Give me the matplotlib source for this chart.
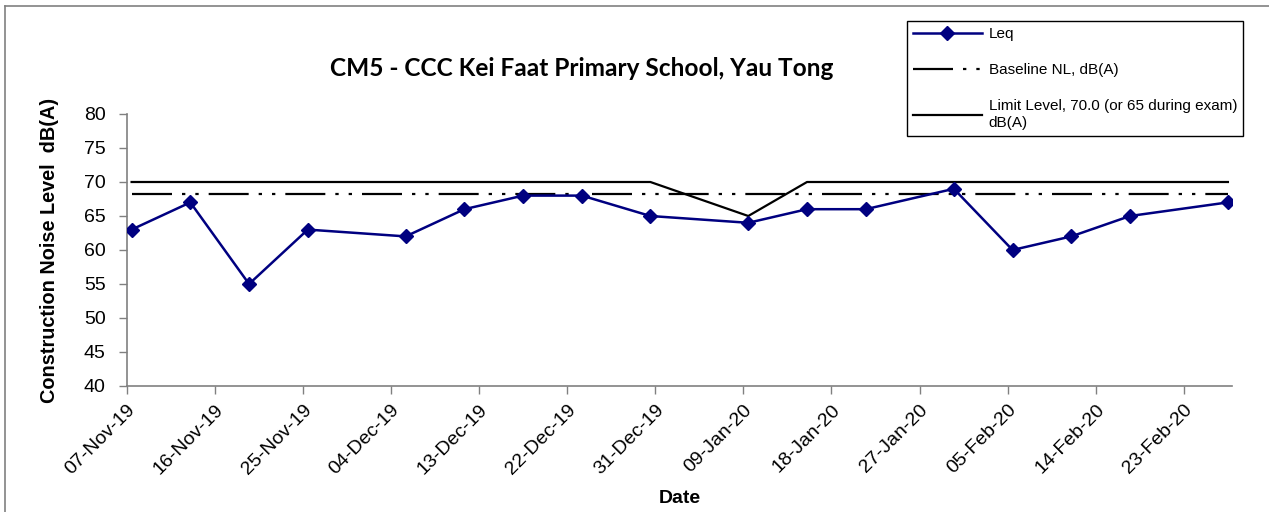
import numpy as np
import pandas as pd
import matplotlib
matplotlib.use("Agg")
import matplotlib.pyplot as plt
import matplotlib.dates as mdates
from matplotlib.lines import Line2D

# measurement dates and readings
dates = ["2019-11-07", "2019-11-13", "2019-11-19", "2019-11-25", "2019-12-05",
         "2019-12-11", "2019-12-17", "2019-12-23", "2019-12-30", "2020-01-09",
         "2020-01-15", "2020-01-21", "2020-01-30", "2020-02-05", "2020-02-11",
         "2020-02-17", "2020-02-27"]
leq = [63, 67, 55, 63, 62, 66, 68, 68, 65, 64, 66, 66, 69, 60, 62, 65, 67]
baseline = [68.2] * len(dates)
limit = [70, 70, 70, 70, 70, 70, 70, 70, 70, 65, 70, 70, 70, 70, 70, 70, 70]

x_start = "2019-11-07"
x_end = "2020-02-28"
tick_step_days = 9

title = "CM5 - CCC Kei Faat Primary School, Yau Tong"
labels = ["Leq", "Baseline NL, dB(A)", "Limit Level, 70.0 (or 65 during exam)\ndB(A)"]

plt.rcParams['font.family'] = ['Liberation Sans', 'DejaVu Sans']

# points sit in the middle of each day
t = pd.to_datetime(dates) + pd.Timedelta(hours=12)

fig = plt.figure(figsize=(12.69, 5.12), dpi=100)
ax = fig.add_axes([126.7/1269, 1-386/512, (1232-126.7)/1269, (386-114)/512])

l1, = ax.plot(t, leq, color='#000080', lw=1.8, marker='D', ms=7, zorder=4)
l2, = ax.plot(t, baseline, color='black', lw=1.6, zorder=3)
l2.set_dashes([18, 4.5, 1.5, 4.5, 1.5, 4.5])
l3, = ax.plot(t, limit, color='black', lw=1.6, zorder=3)

ax.set_ylim(40, 80)
ax.set_yticks(np.arange(40, 81, 5))
ax.set_xlim(pd.Timestamp(x_start), pd.Timestamp(x_end) - pd.Timedelta(hours=2))
ticks = pd.date_range(x_start, periods=13, freq=f"{tick_step_days}D")
ax.set_xticks(ticks)
ax.xaxis.set_major_formatter(mdates.DateFormatter('%d-%b-%y'))
plt.setp(ax.get_xticklabels(), rotation=45, ha='right', rotation_mode='anchor')

for s in ['top', 'right']:
    ax.spines[s].set_visible(False)
for s in ['left', 'bottom']:
    ax.spines[s].set_color('#808080')
    ax.spines[s].set_linewidth(1.2)
ax.tick_params(direction='out', length=6, width=1, color='#808080', labelsize=14)
ax.tick_params(axis='y', pad=9)
ax.tick_params(axis='x', pad=5)

ax.set_xlabel("Date", fontsize=14, fontweight='bold', labelpad=9)
ax.set_ylabel("Construction Noise Level  dB(A)", fontsize=14.3, fontweight='bold', labelpad=18)

fig.text(582/1269, 1-68/512, title, fontsize=17.6, fontweight='bold', family='Lato',
         ha='center', va='center')

leg = fig.legend([l1, l2, l3], labels, loc='upper left',
                 bbox_to_anchor=(907/1269, 1-21/512), fontsize=11,
                 frameon=True, fancybox=False, edgecolor='black', framealpha=1,
                 handlelength=4.5, labelspacing=1.45, borderpad=0.4, handletextpad=0.45,
                 borderaxespad=0)
leg.get_frame().set_linewidth(1)

# chart area border
fig.add_artist(Line2D([5/1269, 1], [1-6/512, 1-6/512], color='#808080', lw=1.2))
fig.add_artist(Line2D([5/1269, 5/1269], [0, 1-6/512], color='#808080', lw=1.2))

fig.savefig("out.png", dpi=100)
